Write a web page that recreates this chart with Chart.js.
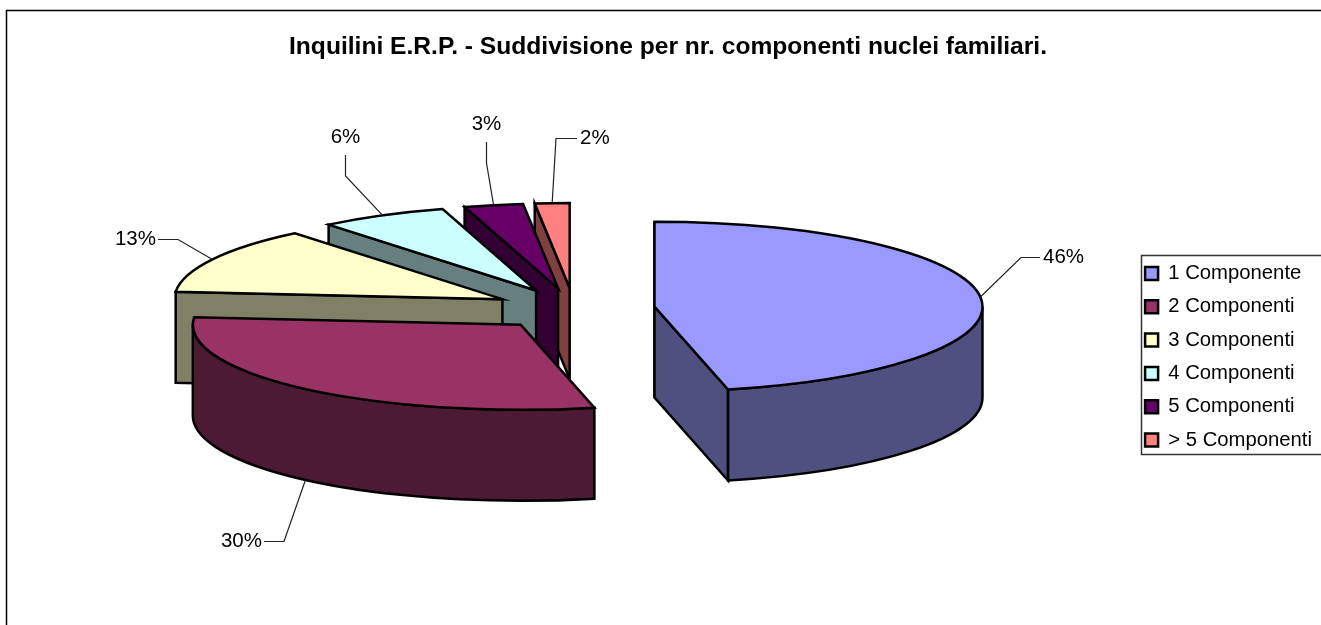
<!DOCTYPE html>
<html lang="it">
<head>
<meta charset="utf-8">
<title>Inquilini E.R.P.</title>
<style>
  html, body { margin: 0; padding: 0; background: #fff; }
  canvas { display: block; }
</style>
</head>
<body>
<canvas id="grafico" width="1321" height="625"></canvas>
<script src="https://cdn.jsdelivr.net/npm/chart.js@4/dist/chart.umd.js"></script>
<script>
const titolo = "Inquilini E.R.P. - Suddivisione per nr. componenti nuclei familiari.";
const categorie = ["1 Componente", "2 Componenti", "3 Componenti", "4 Componenti", "5 Componenti", "> 5 Componenti"];
const percentuali = [46.4, 30, 12.7, 6.3, 2.9, 1.7];
const coloriFaccia = ["#9999FF", "#993366", "#FFFFCC", "#CCFFFF", "#660066", "#FF8080"];
const coloriFianco = ["#4F4F80", "#4D1A33", "#808066", "#668080", "#330033", "#804040"];

// posizione della torta "3D" sulla pagina
const centro = { x: 574, y: 309 };
const raggio = 328;
const schiacciamento = 85 / 328;
const esplosione = 81;
const profondita = 91;

// linee guida delle etichette: gomito e punto finale
const gomiti = [[1021, 257.5], [284, 541.5], [178, 239.5], [345.5, 176], [486.5, 163], [556, 138.5]];
const finiLinea = [[1040, 257.5], [264, 541.5], [158, 239.5], [345.5, 155], [486.5, 142], [577, 138.5]];
const cornice = { left: 6.5, top: 10.5 };
const riquadroLegenda = { left: 1141.5, top: 255.5, bottom: 454.5 };

Chart.defaults.font.family = '"Liberation Sans", Arial, sans-serif';
Chart.defaults.color = "#000";

function schiaccia(chart, ctx) {
    const area = chart.chartArea;
    const cx = (area.left + area.right) / 2;
    const cy = (area.top + area.bottom) / 2;
    ctx.translate(centro.x, centro.y);
    ctx.scale(1, schiacciamento);
    ctx.translate(-cx, -cy);
}

// il percorso viene costruito schiacciato, ma il tratto resta di spessore uniforme
function traccia(chart, ctx, disegna) {
    ctx.save();
    schiaccia(chart, ctx);
    ctx.beginPath();
    disegna();
    ctx.restore();
}

function riempiEBorda(ctx, colore) {
    ctx.fillStyle = colore;
    ctx.fill();
    ctx.stroke();
}

const torta3d = {
    id: "torta3d",
    afterDatasetsUpdate(chart) {
        chart.getDatasetMeta(0).data.forEach((arco) => {
            const medio = (arco.startAngle + arco.endAngle) / 2;
            arco.x += Math.cos(medio) * esplosione;
            arco.y += Math.sin(medio) * esplosione;
        });
    },
    beforeDatasetsDraw(chart) {
        const ctx = chart.ctx;
        const archi = chart.getDatasetMeta(0).data;
        const h = profondita / schiacciamento;
        ctx.save();
        ctx.strokeStyle = "#000";
        ctx.lineWidth = 2.5;
        ctx.lineJoin = "miter";
        for (let i = archi.length - 1; i >= 0; i--) {
            const { x, y, startAngle, endAngle, outerRadius: r } = archi[i];
            // fianchi piani che si vedono davvero
            [startAngle, endAngle].forEach((a, lato) => {
                const visibile = lato === 0 ? Math.cos(a) < 0.001 : Math.cos(a) > 0.001;
                if (!visibile) return;
                traccia(chart, ctx, () => {
                    ctx.moveTo(x, y);
                    ctx.lineTo(x + Math.cos(a) * r, y + Math.sin(a) * r);
                    ctx.lineTo(x + Math.cos(a) * r, y + Math.sin(a) * r + h);
                    ctx.lineTo(x, y + h);
                    ctx.closePath();
                });
                riempiEBorda(ctx, coloriFianco[i]);
            });
            // parete curva, solo la metà anteriore
            const da = Math.max(startAngle, 0);
            const a = Math.min(endAngle, Math.PI);
            if (a > da) {
                traccia(chart, ctx, () => {
                    ctx.arc(x, y, r, da, a);
                    ctx.arc(x, y + h, r, a, da, true);
                    ctx.closePath();
                });
                riempiEBorda(ctx, coloriFianco[i]);
            }
        }
        ctx.restore();
        ctx.save();
        schiaccia(chart, ctx);
    },
    afterDatasetsDraw(chart) {
        const ctx = chart.ctx;
        ctx.restore();
        const archi = chart.getDatasetMeta(0).data;
        ctx.save();
        ctx.strokeStyle = "#000";
        ctx.lineWidth = 2.5;
        ctx.lineJoin = "miter";
        archi.forEach((arco) => {
            traccia(chart, ctx, () => {
                ctx.moveTo(arco.x, arco.y);
                ctx.arc(arco.x, arco.y, arco.outerRadius, arco.startAngle, arco.endAngle);
                ctx.closePath();
            });
            ctx.stroke();
        });
        ctx.restore();
    },
    afterDraw(chart) {
        const ctx = chart.ctx;
        const area = chart.chartArea;
        const cx = (area.left + area.right) / 2;
        const cy = (area.top + area.bottom) / 2;
        const archi = chart.getDatasetMeta(0).data;
        const totale = percentuali.reduce((s, v) => s + v, 0);
        ctx.save();
        // cornice del grafico, tagliata dalla finestra a destra e in basso
        ctx.strokeStyle = "#000";
        ctx.lineWidth = 1.5;
        ctx.beginPath();
        ctx.moveTo(cornice.left, chart.height);
        ctx.lineTo(cornice.left, cornice.top);
        ctx.lineTo(chart.width, cornice.top);
        ctx.stroke();
        // riquadro della legenda
        ctx.strokeStyle = "#333";
        ctx.beginPath();
        ctx.moveTo(chart.width, riquadroLegenda.top);
        ctx.lineTo(riquadroLegenda.left, riquadroLegenda.top);
        ctx.lineTo(riquadroLegenda.left, riquadroLegenda.bottom);
        ctx.lineTo(chart.width, riquadroLegenda.bottom);
        ctx.stroke();
        // etichette con linea guida
        ctx.strokeStyle = "#222";
        ctx.lineWidth = 1.2;
        ctx.fillStyle = "#000";
        ctx.font = '20.5px "Liberation Sans", Arial, sans-serif';
        ctx.textBaseline = "middle";
        archi.forEach((arco, i) => {
            const medio = (arco.startAngle + arco.endAngle) / 2;
            const px = centro.x + (arco.x - cx) + Math.cos(medio) * arco.outerRadius;
            let py = centro.y + ((arco.y - cy) + Math.sin(medio) * arco.outerRadius) * schiacciamento;
            if (Math.sin(medio) > 0) py += profondita;
            const [gx, gy] = gomiti[i];
            const [fx, fy] = finiLinea[i];
            ctx.beginPath();
            ctx.moveTo(px, py);
            ctx.lineTo(gx, gy);
            ctx.lineTo(fx, fy);
            ctx.stroke();
            const testo = Math.round(percentuali[i] / totale * 100) + "%";
            if (fy === gy) {
                ctx.textAlign = fx > gx ? "left" : "right";
                ctx.fillText(testo, fx + (fx > gx ? 3 : -2), fy);
            } else {
                ctx.textAlign = "center";
                ctx.fillText(testo, fx, fy - 18);
            }
        });
        ctx.restore();
    }
};

new Chart(document.getElementById("grafico"), {
    type: "pie",
    data: {
        labels: categorie,
        datasets: [{
            data: percentuali,
            backgroundColor: coloriFaccia,
            borderWidth: 0,
            clip: false
        }]
    },
    options: {
        responsive: false,
        animation: false,
        radius: raggio,
        layout: { padding: { left: 14, right: -1, top: 0, bottom: 0 } },
        plugins: {
            tooltip: { enabled: false },
            title: {
                display: true,
                text: titolo,
                color: "#000",
                font: { size: 24.6, weight: "bold" },
                padding: { top: 32, bottom: 27 }
            },
            legend: {
                position: "right",
                fullSize: false,
                labels: {
                    color: "#000",
                    font: { size: 20.3 },
                    boxWidth: 13,
                    boxHeight: 13,
                    padding: 13,
                    generateLabels(chart) {
                        return categorie.map((testo, i) => ({
                            text: testo,
                            fillStyle: coloriFaccia[i],
                            strokeStyle: "#000",
                            lineWidth: 2.5,
                            index: i
                        }));
                    }
                }
            }
        }
    },
    plugins: [torta3d]
});
</script>
</body>
</html>
